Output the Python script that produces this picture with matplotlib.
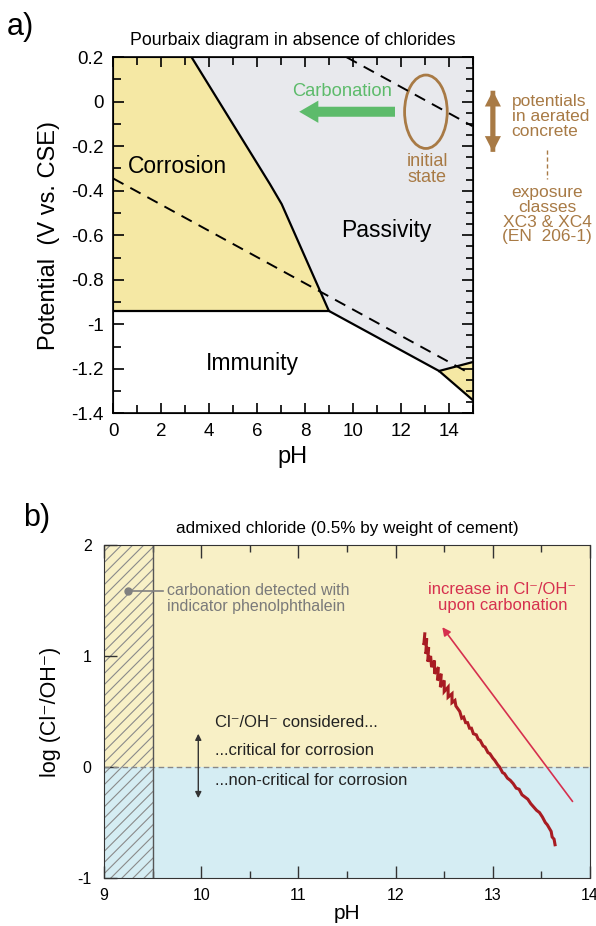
import matplotlib
matplotlib.use("Agg")
import matplotlib.pyplot as plt
from matplotlib.patches import Ellipse, FancyArrow
from matplotlib.ticker import MultipleLocator

plt.rcParams['font.family'] = ['Liberation Sans', 'DejaVu Sans']
plt.rcParams['axes.unicode_minus'] = False
plt.rcParams['hatch.linewidth'] = 0.8

# ---- panel a) : Pourbaix diagram (pH, potential V vs. CSE)
corrosion_ph = [0, 3.27, 6.54, 7.03, 9.0, 0]
corrosion_e = [0.2, 0.2, -0.37, -0.46, -0.94, -0.94]
passivity_ph = [3.27, 15, 15, 13.6, 9.0, 7.03, 6.54]
passivity_e = [0.2, 0.2, -1.17, -1.21, -0.94, -0.46, -0.37]
corr2_ph = [13.6, 15, 15]
corr2_e = [-1.21, -1.17, -1.34]
border_ph = [3.27, 6.54, 7.03, 9.0, 13.6, 15]
border_e = [0.2, -0.37, -0.46, -0.94, -1.21, -1.34]
immun_ph = [0, 9.0]
immun_e = [-0.94, -0.94]
upper_ph = [13.6, 15]
upper_e = [-1.21, -1.17]
h2_ph = [0, 14.7]
h2_e = [-0.345, -1.21]
o2_ph = [9.74, 15]
o2_e = [0.2, -0.11]

# ---- panel b) : log(Cl-/OH-) vs pH during carbonation
meas_ph = [12.30, 12.29, 12.32, 12.31, 12.34, 12.33, 12.36, 12.37, 12.40, 12.40,
           12.44, 12.43, 12.47, 12.46, 12.50, 12.50, 12.54, 12.54, 12.58, 12.58,
           12.61, 12.62, 12.66, 12.68, 12.70, 12.72, 12.74, 12.76, 12.78, 12.80,
           12.83, 12.85, 12.87, 12.90, 12.92, 12.95, 12.97, 13.00, 13.02, 13.05,
           13.07, 13.10, 13.12, 13.15, 13.18, 13.21, 13.24, 13.27, 13.30, 13.33,
           13.36, 13.39, 13.42, 13.45, 13.48, 13.51, 13.54, 13.56, 13.58, 13.60,
           13.61, 13.63, 13.64]
meas_log = [1.20, 1.10, 1.16, 1.02, 1.08, 0.95, 1.00, 0.90, 0.96, 0.84,
            0.90, 0.78, 0.84, 0.72, 0.78, 0.68, 0.72, 0.63, 0.66, 0.58,
            0.60, 0.55, 0.50, 0.44, 0.45, 0.40, 0.40, 0.35, 0.35, 0.30,
            0.29, 0.25, 0.24, 0.19, 0.18, 0.13, 0.12, 0.08, 0.06, 0.02,
            0.00, -0.05, -0.06, -0.10, -0.12, -0.15, -0.19, -0.20, -0.25, -0.27,
            -0.29, -0.33, -0.36, -0.39, -0.41, -0.45, -0.50, -0.52, -0.55, -0.58,
            -0.63, -0.65, -0.70]
critical_log = 0.0
phenol_ph = 9.5

yellow = '#f5e8a4'
grey = '#e8e9ed'
brown = '#a87a45'
green = '#5dbb6b'

fig = plt.figure(figsize=(5.96, 9.26), dpi=100)

# ================= a)
ax = fig.add_axes([0.190, 0.5537, 0.603, 0.3845])
ax.fill(passivity_ph, passivity_e, color=grey, lw=0)
ax.fill(corrosion_ph, corrosion_e, color=yellow, lw=0)
ax.fill(corr2_ph, corr2_e, color=yellow, lw=0)
ax.plot(border_ph, border_e, color='k', lw=1.6)
ax.plot(immun_ph, immun_e, color='k', lw=1.6)
ax.plot(upper_ph, upper_e, color='k', lw=1.6)
ax.plot(h2_ph, h2_e, color='k', lw=1.4, ls=(0, (6, 4)))
ax.plot(o2_ph, o2_e, color='k', lw=1.4, ls=(0, (6, 4)), clip_on=True)
ax.set_xlim(0, 15)
ax.set_ylim(-1.4, 0.2)
ax.set_xticks(range(0, 15, 2))
ax.xaxis.set_minor_locator(MultipleLocator(1))
ax.set_yticks([0.2, 0, -0.2, -0.4, -0.6, -0.8, -1.0, -1.2, -1.4])
ax.set_yticklabels(['0.2', '0', '-0.2', '-0.4', '-0.6', '-0.8', '-1', '-1.2', '-1.4'])
ax.yaxis.set_minor_locator(MultipleLocator(0.1))
ax.tick_params(which='both', direction='in', top=True, right=False, labelsize=13.5)
ax.tick_params(which='major', length=8, width=1.2, pad=7)
ax.tick_params(which='minor', length=6, width=1.2)
ax.tick_params(axis='x', which='major', length=7)
for s in ax.spines.values():
    s.set_linewidth(1.2)
axr = ax.twinx()
axr.set_ylim(-1.4, 0.2)
axr.yaxis.set_major_locator(MultipleLocator(0.2))
axr.yaxis.set_minor_locator(MultipleLocator(0.05))
axr.tick_params(which='both', direction='in', labelright=False, width=1.2)
axr.tick_params(which='major', length=8)
axr.tick_params(which='minor', length=5)

ax.text(2.7, -0.29, 'Corrosion', fontsize=16.5, ha='center', va='center')
ax.text(11.4, -0.58, 'Passivity', fontsize=16.5, ha='center', va='center')
ax.text(5.8, -1.178, 'Immunity', fontsize=16.5, ha='center', va='center')
ax.text(9.55, 0.045, 'Carbonation', fontsize=13.2, color=green, ha='center', va='center')
ax.add_patch(FancyArrow(11.76, -0.045, -4.0, 0, width=0.045, head_width=0.1,
                        head_length=0.8, color=green, lw=0, length_includes_head=True))
ax.add_patch(Ellipse((13.05, -0.045), 1.78, 0.33, fill=False, ec=brown, lw=2))
ax.text(13.1, -0.305, 'initial\nstate', fontsize=13, color=brown, ha='center',
        va='center', linespacing=0.95)
ax.set_title('Pourbaix diagram in absence of chlorides', fontsize=12.8, pad=9)
ax.set_xlabel('pH', fontsize=17, labelpad=4)
ax.set_ylabel('Potential  (V vs. CSE)', fontsize=17, labelpad=8)

fig.text(0.012, 0.971, 'a)', fontsize=22, va='center')
fig.patches.append(FancyArrow(0.827, 0.902, 0, -0.066, width=0.008, head_width=0.027,
                              head_length=0.017, color=brown, lw=0,
                              length_includes_head=True, transform=fig.transFigure,
                              figure=fig))
fig.patches.append(FancyArrow(0.827, 0.836, 0, 0.066, width=0.008, head_width=0.027,
                              head_length=0.017, color=brown, lw=0,
                              length_includes_head=True, transform=fig.transFigure,
                              figure=fig))
fig.text(0.8585, 0.8747, 'potentials\nin aerated\nconcrete', fontsize=12.5, color=brown,
         ha='left', va='center', linespacing=1.0)
fig.lines.append(plt.Line2D([0.918, 0.918], [0.838, 0.807], color=brown, lw=1,
                            ls=(0, (3, 2)), transform=fig.transFigure))
fig.text(0.918, 0.768, 'exposure\nclasses\nXC3 & XC4\n(EN  206-1)', fontsize=12.5,
         color=brown, ha='center', va='center', linespacing=0.98)

# ================= b)
bx = fig.add_axes([0.1745, 0.0518, 0.8155, 0.3596])
bx.set_xlim(9, 14)
bx.set_ylim(-1, 2)
bx.axhspan(critical_log, 2, color='#f8f0c6', lw=0)
bx.axhspan(-1, critical_log, color='#d5edf3', lw=0)
bx.axhline(critical_log, color='#888888', lw=1, ls=(0, (4, 2.5)))
bx.axvspan(9, phenol_ph, facecolor='none', edgecolor='#8a8a8a', hatch='///', lw=0)
bx.axvline(phenol_ph, color='#555555', lw=1)
bx.plot(meas_ph, meas_log, color='#a81c22', lw=2.2, solid_joinstyle='miter')
bx.annotate('', xy=(12.48, 1.26), xytext=(13.82, -0.31),
            arrowprops=dict(arrowstyle='-|>', color='#d6304e', lw=1.2,
                            mutation_scale=12, shrinkA=0, shrinkB=0))
bx.text(13.1, 1.53, 'increase in Cl⁻/OH⁻\nupon carbonation', fontsize=12,
        color='#d6304e', ha='center', va='center', linespacing=1.05)
bx.plot([9.25], [1.59], 'o', color='#808080', ms=5)
bx.plot([9.25, 9.61], [1.59, 1.59], color='#808080', lw=1.2)
bx.text(9.65, 1.52, 'carbonation detected with\nindicator phenolphthalein',
        fontsize=11.5, color='#7a7a7a', ha='left', va='center', linespacing=1.05)
bx.annotate('', xy=(9.97, 0.30), xytext=(9.97, -0.28),
            arrowprops=dict(arrowstyle='<|-|>', color='#333333', lw=1,
                            mutation_scale=9, shrinkA=0, shrinkB=0))
bx.text(10.14, 0.40, 'Cl⁻/OH⁻ considered...', fontsize=12, color='#222222', va='center')
bx.text(10.14, 0.15, '...critical for corrosion', fontsize=12, color='#222222', va='center')
bx.text(10.14, -0.12, '...non-critical for corrosion', fontsize=12, color='#222222', va='center')
bx.set_xticks(range(9, 15))
bx.xaxis.set_minor_locator(MultipleLocator(0.5))
bx.set_yticks([-1, 0, 1, 2])
bx.set_yticklabels(['-1', '0', '1', '2'])
bx.tick_params(which='both', direction='in', top=True, color='#333333', labelsize=11.5)
bx.tick_params(which='major', length=9, width=1)
bx.tick_params(which='minor', length=5, width=1)
bx.tick_params(axis='x', which='major', pad=7)
bx.tick_params(axis='y', which='major', pad=9)
for s in bx.spines.values():
    s.set_color('#333333')
bx.set_title('admixed chloride (0.5% by weight of cement)', fontsize=12.3, pad=9)
bx.set_xlabel('pH', fontsize=15, labelpad=1)
bx.set_ylabel('log (Cl⁻/OH⁻)', fontsize=15.5, labelpad=12)
fig.text(0.038, 0.441, 'b)', fontsize=22, va='center')

fig.savefig('out.png', dpi=100)
